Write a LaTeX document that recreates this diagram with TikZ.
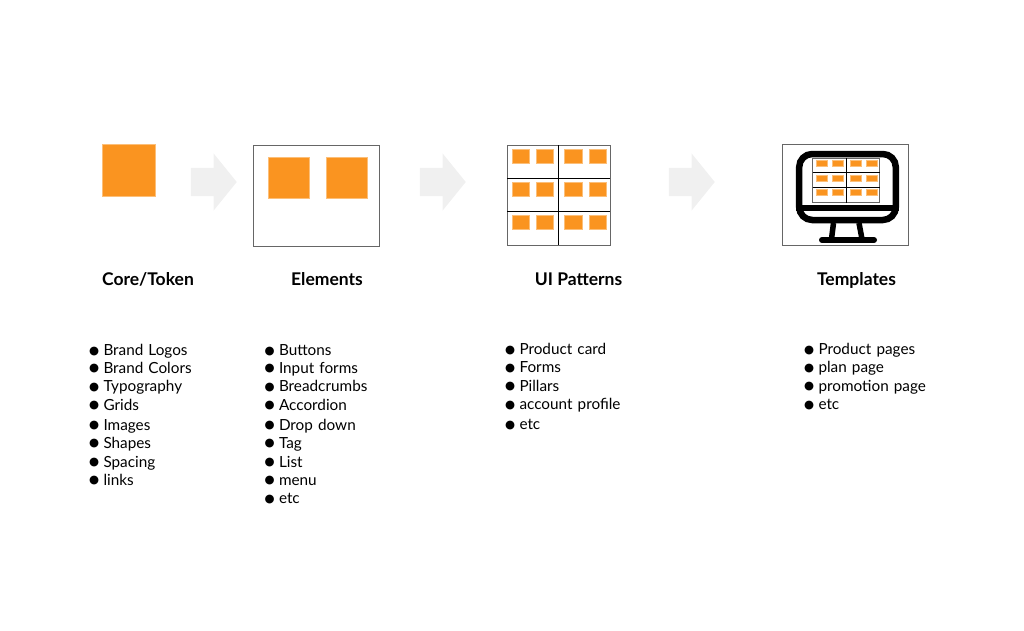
\documentclass[tikz,border=0pt]{standalone}
\usepackage{fontspec}
\setmainfont{Lato}
\newfontfamily\bulfont{DejaVu Sans}
\usetikzlibrary{shapes,arrows,positioning}
\definecolor{tileorange}{HTML}{FA9420}
\definecolor{arrowgrey}{HTML}{F0F0F0}
\definecolor{boxgrey}{HTML}{666666}
\newcommand{\bul}{\makebox[14.5pt][l]{\raisebox{1.5pt}{\fontsize{11.5}{12}\bulfont ●}}}
\tikzstyle{tile}=[fill=tileorange,draw=tileorange!60!white,line width=0.5pt,inner sep=0,outer sep=0]
\tikzstyle{bigarrow}=[single arrow,fill=arrowgrey,inner sep=0,outer sep=0,minimum height=46pt,text height=28pt,text depth=0pt,single arrow head extend=14.5pt,single arrow tip angle=102]
\tikzstyle{framebox}=[draw=boxgrey,line width=1pt,inner sep=0,outer sep=0]
\tikzstyle{heading}=[font=\fontsize{17.5}{20}\selectfont\bfseries,inner sep=0,text height=12pt,text depth=4pt]
\tikzstyle{listitem}=[font=\fontsize{15.3}{17}\selectfont,inner sep=0,text width=130pt,align=left,text height=10.5pt,text depth=3pt]
\begin{document}
\begin{tikzpicture}[x=1pt,y=-1pt,node distance=18.7pt]
\useasboundingbox (0,0) rectangle (1024,630);
% top row
\node [tile,minimum width=52.5pt,minimum height=51.5pt] (core) at (128.5,170) {};
\node [bigarrow] (a1) at (208,182) {};
\node [framebox,minimum width=126pt,minimum height=101pt] (elem) at (316.5,195.5) {};
\node [tile,minimum width=41pt,minimum height=41pt] (e1) at (288.5,177.5) {};
\node [tile,minimum width=41pt,minimum height=41pt] (e2) at (346.5,178) {};
\node [bigarrow] (a2) at (437,182) {};
\node [framebox,minimum width=103pt,minimum height=100pt] (ui) at (558.5,195.3) {};
\draw [line width=1pt] (ui.north) -- (ui.south);
\coordinate (u1) at (507,178.3);
\coordinate (u2) at (507,211.7);
\draw [line width=1pt] (u1) -- (u1 -| ui.east);
\draw [line width=1pt] (u2) -- (u2 -| ui.east);
\foreach \x in {520.7,544.7,573.2,597.5}
  \foreach \y in {156.2,189.2,222.2}
    \node [tile,minimum width=17.5pt,minimum height=14.5pt] at (\x,\y) {};
\node [bigarrow] (a3) at (686,182) {};
% monitor
\node [framebox,minimum width=126pt,minimum height=101pt] (tmpl) at (845.7,195.3) {};
\draw [line width=6.5pt,rounded corners=13pt] (799.2,154) rectangle (895.8,220);
\draw [line width=6pt] (796,207.5) -- (899,207.5);
\draw [line width=5.5pt] (833.5,223) -- (831.5,239);
\draw [line width=5.5pt] (859,223) -- (862,239);
\draw [line width=6pt,line cap=round] (822,240) -- (874,240);
\node [draw=boxgrey,line width=1pt,inner sep=0,minimum width=67pt,minimum height=44pt,fill=white] (grid) at (846.2,180.3) {};
\draw [line width=1pt] (grid.north) -- (grid.south);
\coordinate (g1) at (812.7,172.7);
\coordinate (g2) at (812.7,187.7);
\draw [line width=1pt] (g1) -- (g1 -| grid.east);
\draw [line width=1pt] (g2) -- (g2 -| grid.east);
\foreach \x in {821.8,837.7,856,871.4}
  \foreach \y in {163.3,178,192.7}
    \node [tile,minimum width=11.3pt,minimum height=6pt] at (\x,\y) {};
% headings
\node [heading] (h1) at (148,281) {Core/Token};
\node [heading] (h2) at (327,281) {Elements};
\node [heading] (h3) at (578.5,281) {UI Patterns};
\node [heading] (h4) at (856.5,281) {Templates};
% first list
\node [listitem] (c1) at (154,352) {\bul Brand Logos};
\node [listitem,below of=c1,node distance=17.7pt] (c2) {\bul Brand Colors};
\node [listitem,below of=c2,node distance=18.3pt] (c3) {\bul Typography};
\node [listitem,below of=c3] (c4) {\bul Grids};
\node [listitem,below of=c4,node distance=19.7pt] (c5) {\bul Images};
\node [listitem,below of=c5,node distance=18.3pt] (c6) {\bul Shapes};
\node [listitem,below of=c6] (c7) {\bul Spacing};
\node [listitem,below of=c7,node distance=18pt] (c8) {\bul links};
% second list
\node [listitem] (e1l) at (329.5,352) {\bul Buttons};
\node [listitem,below of=e1l,node distance=17.7pt] (e2l) {\bul Input forms};
\node [listitem,below of=e2l,node distance=18.3pt] (e3l) {\bul Breadcrumbs};
\node [listitem,below of=e3l] (e4l) {\bul Accordion};
\node [listitem,below of=e4l,node distance=19.7pt] (e5l) {\bul Drop down};
\node [listitem,below of=e5l,node distance=18.3pt] (e6l) {\bul Tag};
\node [listitem,below of=e6l] (e7l) {\bul List};
\node [listitem,below of=e7l,node distance=18pt] (e8l) {\bul menu};
\node [listitem,below of=e8l] (e9l) {\bul etc};
% third list
\node [listitem] (u1l) at (570,351) {\bul Product card};
\node [listitem,below of=u1l,node distance=18pt] (u2l) {\bul Forms};
\node [listitem,below of=u2l,node distance=18.5pt] (u3l) {\bul Pillars};
\node [listitem,below of=u3l] (u4l) {\bul account profile};
\node [listitem,below of=u4l,node distance=19.7pt] (u5l) {\bul etc};
% fourth list
\node [listitem] (t1l) at (869,351) {\bul Product pages};
\node [listitem,below of=t1l,node distance=18pt] (t2l) {\bul plan page};
\node [listitem,below of=t2l,node distance=18.5pt] (t3l) {\bul promotion page};
\node [listitem,below of=t3l] (t4l) {\bul etc};
\end{tikzpicture}
\end{document}
